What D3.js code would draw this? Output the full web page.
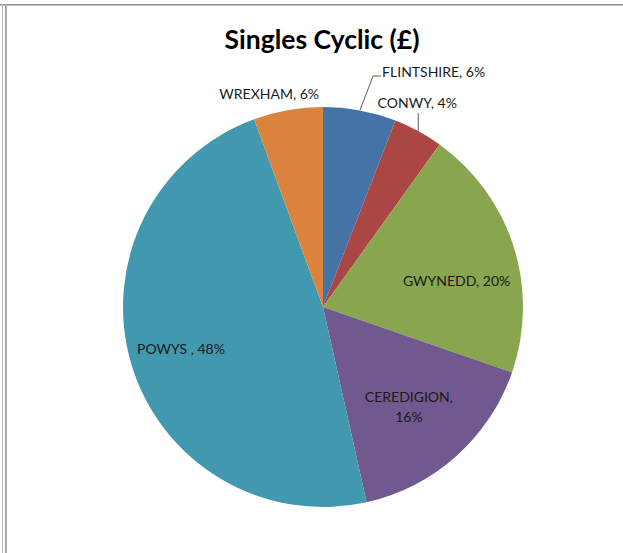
<!DOCTYPE html>
<html>
<head>
<meta charset="utf-8">
<script src="https://cdn.jsdelivr.net/npm/d3@7"></script>
<style>
  body { margin: 0; background: #fff; }
  svg { display: block; font-family: Lato, "Open Sans", sans-serif; }
</style>
</head>
<body>
<div id="chart"></div>
<script>
// data (share of total, %)
const categories = ["FLINTSHIRE", "CONWY", "GWYNEDD", "CEREDIGION", "POWYS ", "WREXHAM"];
const values = [5.9, 4.0, 20.4, 16.2, 47.9, 5.6];
const colors = ["#4572A7", "#AA4643", "#89A54E", "#71588F", "#4198AF", "#DB843D"];
const title = "Singles Cyclic (£)";

const width = 623;
const height = 553;
const cx = 323;
const cy = 307;
const radius = 200;

// how each data label sits (Excel "best fit" look)
const labelPlacement = [
  { kind: "elbow", r: 1.17, dx: 7, dy: -1 },
  { kind: "up", len: 18 },
  { kind: "inside", r: 0.68, dx: 4, dy: 15 },
  { kind: "inside2", r: 0.66, dx: -2, dy: 2 },
  { kind: "inside", r: 0.74, dx: 0, dy: 0 },
  { kind: "outside", r: 1.08, dx: -16, dy: 0 },
];

const svg = d3.select("#chart").append("svg")
  .attr("width", width)
  .attr("height", height);

// window frame lines
svg.append("rect").attr("x", 0).attr("y", 4).attr("width", width).attr("height", 1).attr("fill", "#8f8f8f");
svg.append("rect").attr("x", 0).attr("y", 5).attr("width", width).attr("height", 1).attr("fill", "#c4c4c4");
svg.append("rect").attr("x", 2).attr("y", 4).attr("width", 1).attr("height", height).attr("fill", "#b4b4b4");
svg.append("rect").attr("x", 5).attr("y", 4).attr("width", 2).attr("height", height).attr("fill", "#a9a9a9");

svg.append("text")
  .attr("x", cx - 1)
  .attr("y", 49)
  .attr("text-anchor", "middle")
  .attr("font-size", 26.5)
  .attr("font-weight", "bold")
  .attr("fill", "#000")
  .text(title);

const total = d3.sum(values);
const pie = d3.pie().sort(null).value((d) => d)(values);
const arc = d3.arc().innerRadius(0).outerRadius(radius);

const g = svg.append("g").attr("transform", `translate(${cx},${cy})`);

g.selectAll("path")
  .data(pie)
  .enter()
  .append("path")
  .attr("d", arc)
  .attr("fill", (d, i) => colors[i]);

function polar(a, r) {
  return [Math.sin(a) * r, -Math.cos(a) * r];
}

const labelColor = "#1a1a1a";
const fontSize = 14;

pie.forEach((d, i) => {
  const p = labelPlacement[i];
  const mid = (d.startAngle + d.endAngle) / 2;
  const pct = Math.round((d.value / total) * 100) + "%";
  const label = categories[i] + ", " + pct;
  const edge = polar(mid, radius);

  if (p.kind === "elbow") {
    const e = polar(mid, radius * p.r);
    const ex = e[0] + p.dx;
    const ey = e[1] + p.dy;
    g.append("path")
      .attr("d", d3.line()([edge, [ex, ey], [ex + 8, ey]]))
      .attr("fill", "none")
      .attr("stroke", "#595959")
      .attr("stroke-width", 1);
    g.append("text")
      .attr("x", ex + 9)
      .attr("y", ey + 1)
      .attr("font-size", fontSize)
      .attr("fill", labelColor)
      .text(label);
  } else if (p.kind === "up") {
    const top = edge[1] - p.len;
    g.append("line")
      .attr("x1", edge[0]).attr("y1", edge[1])
      .attr("x2", edge[0]).attr("y2", top)
      .attr("stroke", "#595959")
      .attr("stroke-width", 1);
    g.append("text")
      .attr("x", edge[0] - 1)
      .attr("y", top - 5)
      .attr("text-anchor", "middle")
      .attr("font-size", fontSize)
      .attr("fill", labelColor)
      .text(label);
  } else if (p.kind === "inside2") {
    const c = polar(mid, radius * p.r);
    const t = g.append("text")
      .attr("text-anchor", "middle")
      .attr("font-size", fontSize)
      .attr("fill", labelColor);
    t.append("tspan").attr("x", c[0] + p.dx).attr("y", c[1] + p.dy - 5).text(categories[i] + ",");
    t.append("tspan").attr("x", c[0] + p.dx).attr("y", c[1] + p.dy + 15).text(pct);
  } else {
    const c = polar(mid, radius * p.r);
    g.append("text")
      .attr("x", c[0] + p.dx)
      .attr("y", c[1] + p.dy)
      .attr("dy", "0.35em")
      .attr("text-anchor", "middle")
      .attr("font-size", fontSize)
      .attr("fill", labelColor)
      .text(label);
  }
});
</script>
</body>
</html>
